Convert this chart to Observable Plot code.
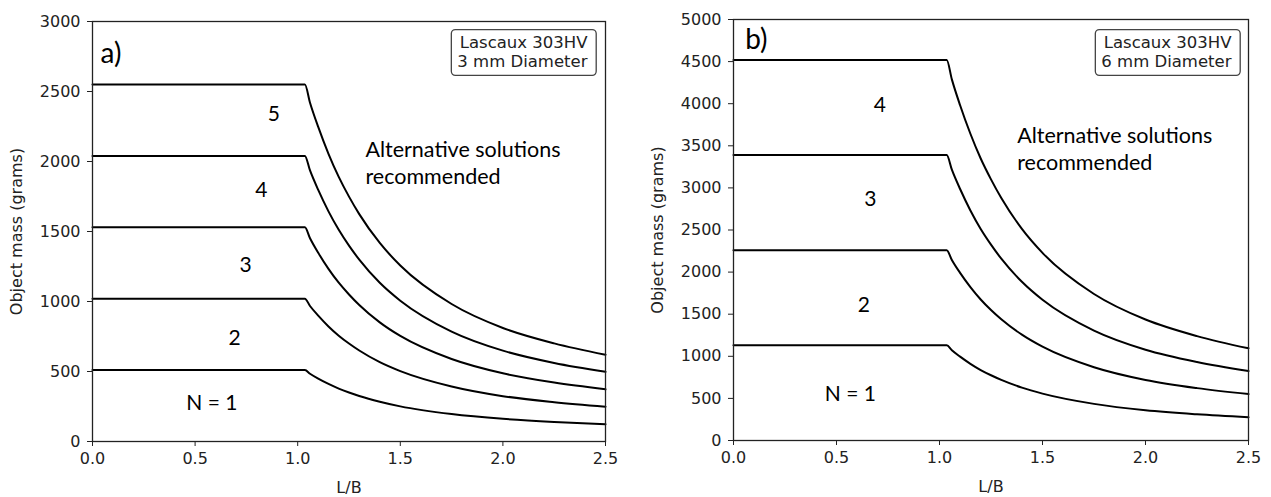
<!DOCTYPE html>
<html><head><meta charset="utf-8">
<script src="https://cdn.jsdelivr.net/npm/d3@7"></script>
<script src="https://cdn.jsdelivr.net/npm/@observablehq/plot@0.6"></script>
<style>
body{margin:0;background:#fff;}
#wrap{position:relative;width:1271px;height:497px;overflow:hidden;}
.panel{position:absolute;top:0;}
.panel svg{display:block;}
</style></head><body><div id="wrap"></div>
<script>
// L/B values shared by all curves
const lb = [0, 1.035, 1.06, 1.1, 1.15, 1.2, 1.25, 1.3, 1.4, 1.5, 1.75, 2.0, 2.25, 2.5];

// Panel a) 3 mm diameter — object mass (grams) for N = 1..5
const a1 = [510, 510, 484, 449, 411, 378, 350, 325, 284, 251, 196, 162, 140, 124];
const a2 = [1020, 1020, 968, 899, 822, 756, 700, 650, 567, 503, 393, 324, 281, 249];
const a3 = [1530, 1530, 1452, 1348, 1233, 1134, 1050, 975, 851, 754, 589, 487, 421, 373];
const a4 = [2040, 2040, 1936, 1797, 1644, 1512, 1399, 1299, 1134, 1006, 785, 649, 561, 498];
const a5 = [2550, 2550, 2420, 2247, 2055, 1890, 1749, 1624, 1418, 1257, 982, 811, 701, 620];

// Panel b) 6 mm diameter — object mass (grams) for N = 1..4
const b1 = [1130, 1130, 1072, 996, 911, 837, 775, 720, 628, 557, 435, 359, 311, 276];
const b2 = [2260, 2260, 2145, 1991, 1822, 1675, 1550, 1440, 1257, 1114, 870, 719, 622, 551];
const b3 = [3390, 3390, 3217, 2987, 2732, 2512, 2326, 2159, 1885, 1671, 1305, 1078, 932, 825];
const b4 = [4520, 4520, 4289, 3982, 3643, 3349, 3101, 2879, 2513, 2228, 1740, 1437, 1240, 1095];

// tick labels
const xTicks = [0, 0.5, 1.0, 1.5, 2.0, 2.5];
const yTicksA = [0, 500, 1000, 1500, 2000, 2500, 3000];
const yTicksB = [0, 500, 1000, 1500, 2000, 2500, 3000, 3500, 4000, 4500, 5000];

// curve labels and their anchor points (data coordinates)
const nLabelsA = ["N = 1", "2", "3", "4", "5"];
const nLabelAx = [0.582, 0.692, 0.746, 0.823, 0.884];
const nLabelAy = [271, 739, 1259, 1794, 2336];
const nLabelsB = ["N = 1", "2", "3", "4"];
const nLabelBx = [0.567, 0.633, 0.664, 0.711];
const nLabelBy = [553, 1605, 2866, 3983];

const panelTags = ["a)", "b)"];
const boxTexts = ["Lascaux 303HV\n3 mm Diameter", "Lascaux 303HV\n6 mm Diameter"];
const altText = "Alternative solutions\nrecommended";
const altPosA = [1.33, 2174];
const altPosB = [1.377, 3766];
const tagPosA = [0.039, 2768];
const tagPosB = [0.057, 4756];

function rowsOf(series) {
  const rows = [];
  series.forEach((vals, k) => vals.forEach((v, i) => rows.push({n: k + 1, lb: lb[i], mass: v})));
  return rows;
}

function panel({series, yMax, yTicks, labels, lx, ly, tag, tagPos, box, altPos, width, ml, mr, mt, mb, boxDx, boxDy}) {
  const rows = rowsOf(series);
  const lab = labels.map((t, i) => ({t, x: lx[i], y: ly[i]}));
  return Plot.plot({
    width, height: 497,
    marginLeft: ml, marginRight: mr, marginTop: mt, marginBottom: mb,
    style: {fontFamily: "'DejaVu Sans', sans-serif", fontSize: "16px", color: "#222", background: "white"},
    x: {domain: [0, 2.5]},
    y: {domain: [0, yMax]},
    marks: [
      Plot.line(rows, {x: "lb", y: "mass", z: "n", stroke: "#000", strokeWidth: 2, curve: "monotone-x"}),
      Plot.frame({stroke: "#222", strokeWidth: 1.3}),
      Plot.axisX({ticks: xTicks, tickFormat: d3.format(".1f"), tickSize: 5, tickPadding: 6, label: "L/B", labelAnchor: "center", labelOffset: 51, labelArrow: "none", stroke: "#222"}),
      Plot.axisY({ticks: yTicks, tickFormat: d3.format("d"), tickSize: 5, tickPadding: 7, label: "Object mass (grams)", labelAnchor: "center", labelOffset: 82, labelArrow: "none", stroke: "#222"}),
      Plot.text(lab, {x: "x", y: "y", text: "t", fontFamily: "Lato, sans-serif", fontSize: 21, fill: "#000"}),
      Plot.text([tag], {x: tagPos[0], y: tagPos[1], text: d => d, textAnchor: "start", fontFamily: "Lato, sans-serif", fontSize: 28, fill: "#000"}),
      Plot.text([altText], {x: altPos[0], y: altPos[1], text: d => d, textAnchor: "start", lineAnchor: "top", lineHeight: 1.28, fontFamily: "Lato, sans-serif", fontSize: 21.5, fill: "#000"}),
      Plot.text([box], {frameAnchor: "top-right", text: d => d, textAnchor: "end", lineAnchor: "top", dx: boxDx, dy: boxDy, lineHeight: 1.2, fontFamily: "'DejaVu Sans', sans-serif", fontSize: 16.5, fill: "#222"})
    ]
  });
}

function addBox(svg) {
  const groups = svg.querySelectorAll('g[aria-label="text"]');
  const g = groups[groups.length - 1];
  const bb = g.getBBox();
  const r = document.createElementNS("http://www.w3.org/2000/svg", "rect");
  r.setAttribute("x", bb.x - 6);
  r.setAttribute("y", bb.y - 3);
  r.setAttribute("width", bb.width + 14);
  r.setAttribute("height", bb.height + 7);
  r.setAttribute("rx", 4);
  r.setAttribute("fill", "white");
  r.setAttribute("stroke", "#444");
  r.setAttribute("stroke-width", 1.3);
  g.insertBefore(r, g.firstChild);
}

const wrap = document.getElementById("wrap");
const specs = [
  {left: 0, opts: {series: [a1, a2, a3, a4, a5], yMax: 3000, yTicks: yTicksA, labels: nLabelsA, lx: nLabelAx, ly: nLabelAy, tag: panelTags[0], tagPos: tagPosA, box: boxTexts[0], altPos: altPosA, width: 640, ml: 92, mr: 35, mt: 21, mb: 56, boxDx: -18, boxDy: 12}},
  {left: 640, opts: {series: [b1, b2, b3, b4], yMax: 5000, yTicks: yTicksB, labels: nLabelsB, lx: nLabelBx, ly: nLabelBy, tag: panelTags[1], tagPos: tagPosB, box: boxTexts[1], altPos: altPosB, width: 631, ml: 93, mr: 23, mt: 19, mb: 57, boxDx: -17, boxDy: 14}}
];
for (const s of specs) {
  const div = document.createElement("div");
  div.className = "panel";
  div.style.left = s.left + "px";
  const svg = panel(s.opts);
  div.appendChild(svg);
  wrap.appendChild(div);
  addBox(svg);
}
</script></body></html>
